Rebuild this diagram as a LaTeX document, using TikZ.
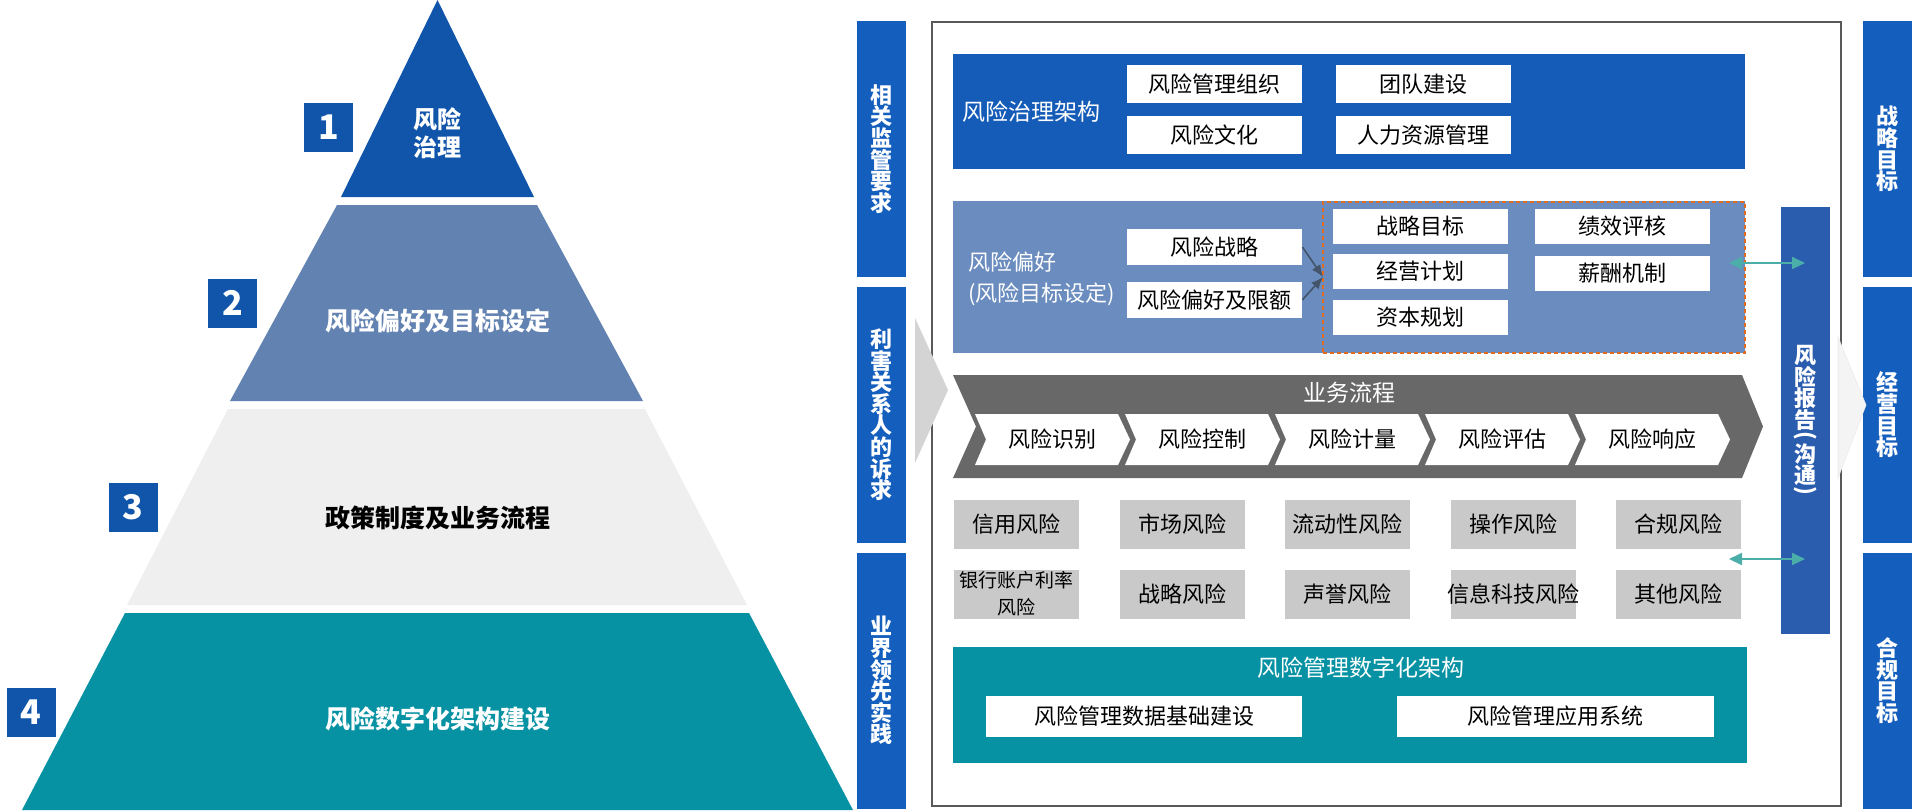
\documentclass[tikz,border=0pt]{standalone}
\usepackage{fontspec}
\usepackage{graphicx}
\setmainfont{Noto Sans CJK SC}
\usetikzlibrary{positioning,arrows.meta,matrix}

\definecolor{PyrBlue}{HTML}{1055AA}
\definecolor{PyrSteel}{HTML}{6282B1}
\definecolor{PyrGray}{HTML}{EFEFEF}
\definecolor{PyrTeal}{HTML}{0792A3}
\definecolor{SideBlue}{HTML}{145EBD}
\definecolor{PanelBlue}{HTML}{155CB8}
\definecolor{PanelSteel}{HTML}{6A8CBF}
\definecolor{ReportBlue}{HTML}{2B5DAF}
\definecolor{FlowGray}{HTML}{686868}
\definecolor{RiskGray}{HTML}{C9C9C9}
\definecolor{LinkTeal}{HTML}{4BAEA9}
\definecolor{MergeGray}{HTML}{44546A}
\definecolor{DashOrange}{HTML}{E06A1E}
\definecolor{FrameGray}{HTML}{595959}
\definecolor{ArrowGray}{HTML}{D4D4D4}
\definecolor{FaintGray}{HTML}{F4F4F4}

\begin{document}
\begin{tikzpicture}[x=0.5pt, y=-0.5pt]
\tikzstyle{layer} = [font=\bfseries\fontsize{12.5}{14}\selectfont, align=center]
\tikzstyle{number} = [fill=PyrBlue, text=white, minimum size=24.5pt, inner sep=0pt, font=\bfseries\fontsize{17}{17}\selectfont]
\tikzstyle{sidebar} = [fill=SideBlue, text=white, minimum width=24.5pt, minimum height=128pt, inner sep=0pt, align=center, font=\bfseries\fontsize{11}{10.8}\selectfont]
\tikzstyle{panel} = [minimum width=396pt, inner sep=0pt]
\tikzstyle{title} = [text=white, inner sep=0pt, font=\fontsize{11.5}{15.5}\selectfont]
\tikzstyle{item} = [fill=white, minimum width=87.5pt, minimum height=19pt, inner sep=0pt, font=\fontsize{11}{11}\selectfont]
\tikzstyle{risk} = [fill=RiskGray, minimum width=62.5pt, minimum height=24.5pt, inner sep=0pt, align=center, font=\fontsize{11}{11}\selectfont]
\tikzstyle{stage} = [inner sep=0pt, font=\fontsize{11}{11}\selectfont]
\tikzstyle{link} = [LinkTeal, line width=1pt, {Triangle[length=6.5pt,width=6pt]}-{Triangle[length=6.5pt,width=6pt]}]
\tikzstyle{merge} = [MergeGray, line width=0.8pt, -{Latex[length=6pt,width=5pt]}]

\useasboundingbox (0,0) rectangle (1916,810);

% pyramid
\fill[PyrBlue] (437.5,0) -- (534,197) -- (341,197) -- cycle;
\fill[PyrSteel] (337,205) -- (537,205) -- (643,401) -- (230,401) -- cycle;
\fill[PyrGray] (228,409) -- (645,409) -- (747,605) -- (127,605) -- cycle;
\fill[PyrTeal] (125,613) -- (749,613) -- (853,810) -- (22,810) -- cycle;
\node (Governance) [layer, text=white, font=\bfseries\fontsize{12}{13.75}\selectfont] at (437.5,133) {风险\\治理};
\node (Appetite) [layer, text=white] at (437.5,321) {风险偏好及目标设定};
\node (Policy) [layer] at (437.5,518) {政策制度及业务流程};
\node (Digital) [layer, text=white] at (437.5,719) {风险数字化架构建设};
\node (NumOne) [number] at (328.5,127) {1};
\node (NumTwo) [number] at (232.5,303) {2};
\node (NumThree) [number] at (133,507.5) {3};
\node (NumFour) [number] at (31,712) {4};

% side bars
\node (Regulation) [sidebar] at (881.5,149) {相\\关\\监\\管\\要\\求};
\node (Stakeholder) [sidebar, below=4.5pt of Regulation] {利\\害\\关\\系\\人\\的\\诉\\求};
\node (Practice) [sidebar, below=4.5pt of Stakeholder] {业\\界\\领\\先\\实\\践};
\node (Strategic) [sidebar] at (1887.5,149) {战\\略\\目\\标};
\node (Operating) [sidebar, below=4.5pt of Strategic] {经\\营\\目\\标};
\node (Compliant) [sidebar, below=4.5pt of Operating] {合\\规\\目\\标};

% frame
\draw[FrameGray, line width=0.6pt] (932,22) rectangle (1841,806);
\fill[ArrowGray] (915,318) -- (948,390) -- (915,463) -- cycle;
\fill[FaintGray, draw=black!8, line width=0.3pt] (1838,337) -- (1866,405) -- (1838,478) -- cycle;

% governance
\node (GovPanel) [panel, fill=PanelBlue, minimum height=57.5pt] at (1349,111.5) {};
\node (GovTitle) [title, anchor=west] at (962,112) {风险治理架构};
\node (RiskOrg) [item] at (1214.5,84) {风险管理组织};
\node (RiskCulture) [item, below=6pt of RiskOrg] {风险文化};
\node (TeamBuild) [item, right=16.5pt of RiskOrg] {团队建设};
\node (HumanRes) [item, below=6pt of TeamBuild] {人力资源管理};

% appetite
\node (AppPanel) [panel, fill=PanelSteel, minimum height=76pt] at (1349,277) {};
\node (AppTitle) [title, anchor=west, align=left, font=\fontsize{11}{15.5}\selectfont] at (968,278.5) {风险偏好\\(风险目标设定)};
\node (RiskStrategy) [item, minimum height=18pt] at (1214.5,247) {风险战略};
\node (RiskLimit) [item, minimum height=18pt, below=8pt of RiskStrategy] {风险偏好及限额};
\node (GoalBox) [draw=DashOrange, dash pattern=on 2pt off 1.5pt, line width=0.6pt, minimum width=211pt, minimum height=75.5pt, inner sep=0pt] at (1534,277.5) {};
\node (StratGoal) [item, minimum height=17.5pt] at (1420,226.5) {战略目标};
\node (BizPlan) [item, minimum height=17.5pt, below=4.5pt of StratGoal] {经营计划};
\node (CapPlan) [item, minimum height=17.5pt, below=5pt of BizPlan] {资本规划};
\node (PerfReview) [item, minimum height=17.5pt, right=13.25pt of StratGoal] {绩效评核};
\node (PayScheme) [item, minimum height=17.5pt, below=5.5pt of PerfReview] {薪酬机制};
\coordinate (Merge) at (1323,277);
\draw[merge] (RiskStrategy.east) -- (Merge);
\draw[merge] (RiskLimit.east) -- (Merge);

% business flow
\fill[FlowGray] (953,375) -- (1742,375) -- (1763,426.5) -- (1742,478) -- (953,478) -- (976,426.5) -- cycle;
\node (Flow) [title] at (1349,393) {业务流程};
\foreach \stepname/\steptext [count=\i from 0] in {Identify/风险识别, Control/风险控制, Measure/风险计量, Assess/风险评估, Respond/风险响应} {
  \fill[white] ({975+150*\i},414) -- ++(143,0) -- ++(12,25.5) -- ++(-12,25.5) -- ++(-143,0) -- ++(11,-25.5) -- cycle;
  \node (\stepname) [stage] at ({1052+150*\i},439.5) {\steptext};
}

% risk types
\matrix (RiskGrid) [row sep=10.5pt, column sep=20.25pt] at (1347.5,559)
{
\node (Credit) [risk] {信用风险}; & \node (Market) [risk] {市场风险}; & \node (Liquidity) [risk] {流动性风险}; & \node (Operation) [risk] {操作风险}; & \node (Compliance) [risk] {合规风险}; \\
\node (Banking) [risk, font=\fontsize{9.5}{13.5}\selectfont] {银行账户利率\\风险}; & \node (Strategy) [risk] {战略风险}; & \node (Reputation) [risk] {声誉风险}; & \node (ITRisk) [risk] {\hbox to 0pt{\hss 信息科技风险\hss}}; & \node (Other) [risk] {其他风险}; \\
};

% digital architecture
\node (DigPanel) [panel, fill=PyrTeal, minimum width=397pt, minimum height=58pt] at (1350,705) {};
\node (DigTitle) [title] at (1361,668) {风险管理数字化架构};
\node (DataInfra) [item, minimum width=158pt, minimum height=20.5pt] at (1144,716.5) {风险管理数据基础建设};
\node (AppSystem) [item, minimum width=158.5pt, minimum height=20.5pt] at (1555,716.5) {风险管理应用系统};

% reporting
\node (Report) [sidebar, fill=ReportBlue, minimum height=213.5pt] at (1805.5,420.5) {风\\险\\报\\告\\[-4.8pt]\raisebox{4.5pt}{\rotatebox{-90}{(}}\\沟\\通\\[-4.8pt]\raisebox{4.5pt}{\rotatebox{-90}{)}}};
\coordinate (GoalLink) at (1729,263);
\coordinate (ReportTop) at (1805,263);
\draw[link] (GoalLink) -- (ReportTop);
\coordinate (RiskLink) at (1729,559);
\coordinate (ReportBottom) at (1805,559);
\draw[link] (RiskLink) -- (ReportBottom);

\end{tikzpicture}
\end{document}
